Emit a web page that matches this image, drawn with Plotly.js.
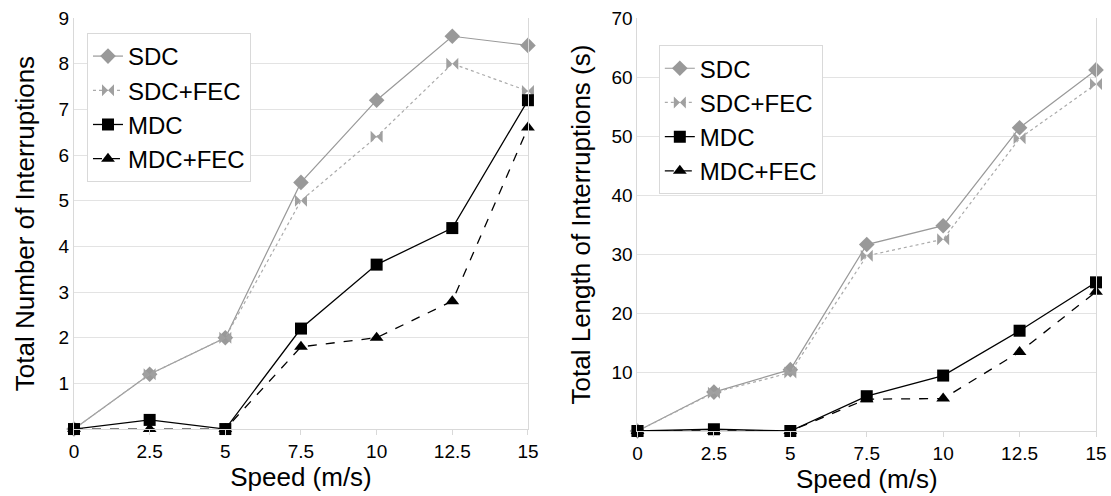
<!DOCTYPE html>
<html>
<head>
<meta charset="utf-8">
<script src="https://cdn.plot.ly/plotly-3.0.1.min.js"></script>
<style>
html,body{margin:0;padding:0;background:#fff;}
#chart{width:1111px;height:496px;}
</style>
</head>
<body>
<div id="chart"></div>
<script>
var speed = [0, 2.5, 5, 7.5, 10, 12.5, 15];
var seriesNames = ['SDC', 'SDC+FEC', 'MDC', 'MDC+FEC'];

// Left chart: Total Number of Interruptions
var countSDC    = [0, 1.2, 2.0, 5.4, 7.2, 8.6, 8.4];
var countSDCFEC = [0, 1.2, 2.0, 5.0, 6.4, 8.0, 7.4];
var countMDC    = [0, 0.2, 0.0, 2.2, 3.6, 4.4, 7.2];
var countMDCFEC = [0, 0.0, 0.0, 1.8, 2.0, 2.8, 6.6];

// Right chart: Total Length of Interruptions (s)
var lenSDC    = [0, 6.6, 10.4, 31.6, 34.8, 51.4, 61.2];
var lenSDCFEC = [0, 6.5, 9.9, 29.7, 32.5, 49.6, 58.8];
var lenMDC    = [0, 0.3, 0.0, 5.9, 9.4, 17.0, 25.2];
var lenMDCFEC = [0, 0.0, 0.0, 5.4, 5.5, 13.4, 23.6];

var xTicks = [0, 2.5, 5, 7.5, 10, 12.5, 15];
var xTickText = ['0', '2.5', '5', '7.5', '10', '12.5', '15'];
var yTicksLeft = [1, 2, 3, 4, 5, 6, 7, 8, 9];
var yTicksRight = [10, 20, 30, 40, 50, 60, 70];

var FONT = '"Liberation Sans", Arial, sans-serif';

var styles = [
  {line: {color: '#999999', width: 1.2, dash: 'solid'}, marker: {symbol: 'diamond', size: 12, color: '#999999'}},
  {line: {color: '#aaaaaa', width: 1.2, dash: 'dot'}, marker: {symbol: 'bowtie', size: 12, color: '#a0a0a0'}},
  {line: {color: '#000000', width: 1.3, dash: 'solid'}, marker: {symbol: 'square', size: 12, color: '#000000'}},
  {line: {color: '#000000', width: 1.3, dash: 'dash'}, marker: {symbol: 'triangle-up', size: 12, color: '#000000'}}
];

function mk(y, i, xa, ya, leg) {
  return {
    x: speed, y: y, name: seriesNames[i], type: 'scatter', mode: 'lines+markers',
    line: styles[i].line, marker: styles[i].marker,
    xaxis: xa, yaxis: ya, legend: leg, cliponaxis: false
  };
}

var data = [
  mk(countSDC, 0, 'x', 'y', 'legend'),
  mk(countSDCFEC, 1, 'x', 'y', 'legend'),
  mk(countMDC, 2, 'x', 'y', 'legend'),
  mk(countMDCFEC, 3, 'x', 'y', 'legend'),
  mk(lenSDC, 0, 'x2', 'y2', 'legend2'),
  mk(lenSDCFEC, 1, 'x2', 'y2', 'legend2'),
  mk(lenMDC, 2, 'x2', 'y2', 'legend2'),
  mk(lenMDCFEC, 3, 'x2', 'y2', 'legend2')
];

function xaxis(domain, anchor) {
  return {
    domain: domain, anchor: anchor, range: [0, 15],
    tickvals: xTicks, ticktext: xTickText,
    showgrid: false, zeroline: false,
    showline: true, linecolor: '#d9d9d9', linewidth: 1,
    ticks: 'outside', ticklen: 5, tickcolor: '#d9d9d9',
    tickfont: {family: FONT, size: 19, color: '#000'},
    title: {text: 'Speed (m/s)', font: {family: FONT, size: 26, color: '#000'}, standoff: 4}
  };
}
function yaxis(domain, anchor, range, ticks, title, standoff) {
  return {
    domain: domain, anchor: anchor, range: range,
    tickvals: ticks, ticktext: ticks.map(String),
    showgrid: true, gridcolor: '#e3e3e3', gridwidth: 1, zeroline: false,
    showline: true, linecolor: '#d9d9d9', linewidth: 1, mirror: true,
    ticks: '',
    tickfont: {family: FONT, size: 19, color: '#000'},
    title: {text: title, font: {family: FONT, size: 26, color: '#000'}, standoff: standoff}
  };
}

var layout = {
  width: 1111, height: 496,
  margin: {l: 0, r: 0, t: 0, b: 0},
  paper_bgcolor: '#fff', plot_bgcolor: '#fff',
  font: {family: FONT, color: '#000'},
  showlegend: true,
  xaxis: xaxis([0.0666, 0.4752], 'y'),
  yaxis: yaxis([0.135, 0.9637], 'x', [0, 9], yTicksLeft, 'Total Number of Interruptions', 16),
  xaxis2: xaxis([0.5738, 0.9865], 'y2'),
  yaxis2: yaxis([0.131, 0.9637], 'x2', [0, 70], yTicksRight, 'Total Length of Interruptions (s)', 13),
  legend: {
    x: 0.0783, y: 0.9335, xanchor: 'left', yanchor: 'top',
    bgcolor: '#fff', bordercolor: '#d9d9d9', borderwidth: 1,
    font: {family: FONT, size: 24, color: '#000'}, itemwidth: 30, tracegroupgap: 0
  },
  legend2: {
    x: 0.593, y: 0.909, xanchor: 'left', yanchor: 'top',
    bgcolor: '#fff', bordercolor: '#d9d9d9', borderwidth: 1,
    font: {family: FONT, size: 24, color: '#000'}, itemwidth: 30, tracegroupgap: 0
  }
};

Plotly.newPlot('chart', data, layout, {staticPlot: true, displayModeBar: false});
</script>
</body>
</html>
